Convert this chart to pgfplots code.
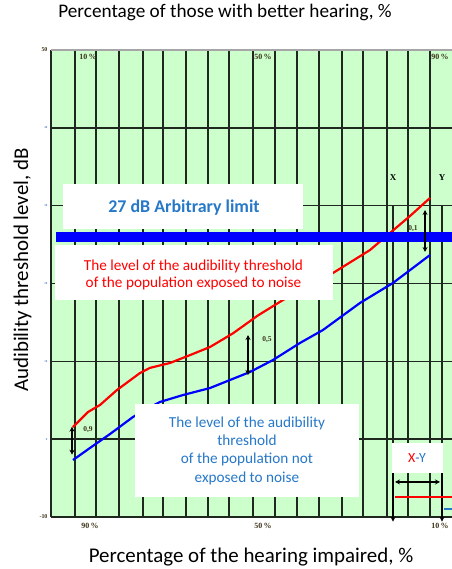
\documentclass[border=0pt]{standalone}
\usepackage{pgfplots}
\pgfplotsset{compat=1.18}
\usepackage{fontspec}
\setmainfont{Carlito}
\newfontfamily\tnr{Liberation Serif}
\usetikzlibrary{arrows.meta}
\definecolor{bggreen}{RGB}{204,255,204}
\definecolor{txtblue}{RGB}{38,120,200}
\definecolor{gridc}{RGB}{30,40,30}
\definecolor{labc}{RGB}{60,50,25}
\definecolor{tickb}{RGB}{90,130,200}
\tikzset{dh/.style={{Stealth[length=5bp,width=5bp]}-{Stealth[length=5bp,width=5bp]}, line width=1.4bp},
         sh/.style={-{Stealth[length=5bp,width=5bp]}, line width=1.5bp}}
\begin{document}
\begin{tikzpicture}[x=1bp,y=1bp]
\useasboundingbox (0,0) rectangle (452,569);
\begin{axis}[
  at={(51bp,52bp)}, anchor=south west,
  width=401bp, height=467bp, scale only axis,
  xmin=0, xmax=401, ymin=-10, ymax=50,
  axis background/.style={fill=bggreen},
  axis line style={draw=none},
  /pgf/number format/assume math mode=true,
  xtick={24,45,68,92,112,135,157,178,202,224,246,268,291,312,336,357,379},
  xticklabels={},
  extra x ticks={39,212,389},
  extra x tick labels={90\,\%,50\,\%,10\,\%},
  extra x tick style={grid=none, major tick length=0pt,
    xticklabel style={font=\tnr\bfseries\fontsize{8}{8}\selectfont, text=labc, yshift=-3bp}},
  ytick={-10,0,10,20,30,40,50},
  yticklabels={{-10},{\fontsize{3}{3}\selectfont\color{tickb}0},{\fontsize{3}{3}\selectfont\color{tickb}10},{\fontsize{3}{3}\selectfont\color{tickb}20},{\fontsize{3}{3}\selectfont\color{tickb}30},{\fontsize{3}{3}\selectfont\color{tickb}40},{50}},
  yticklabel style={font=\tnr\bfseries\fontsize{6}{6}\selectfont, text=labc},
  grid=major, grid style={gridc, line width=1.6bp},
  major tick length=0pt,
  clip=false,
]
% X and Y reference lines
\draw[gridc, line width=1.6bp] (342,30) -- (342,-10);
\draw[gridc, line width=1.6bp] (391,30) -- (391,-10);

% exposed to noise
\addplot[red, line width=2.2bp] coordinates {
(22,1.56) (37,3.49) (49,4.39) (66,6.32) (89,8.5) (99,9.16) (119,9.79) (139,10.8)
(159,11.84) (182,13.6) (207,15.9) (232,17.88) (257,19.55) (282,21.35) (319,24.3)
(339,26.49) (359,28.67) (379,30.99)};
% not exposed
\addplot[blue, line width=2.2bp] coordinates {
(22,-2.68) (39,-1.13) (59,0.66) (82,2.85) (96,3.9) (109,4.78) (132,5.67) (159,6.57)
(179,7.6) (199,8.63) (222,10.17) (249,12.36) (272,14.03) (309,17.5) (342,20.07) (379,23.66)};
% 27 dB limit band
\addplot[blue, line width=9.5bp] coordinates {(5,25.95) (401,25.95)};

% white boxes
\fill[white] (12,27.0) rectangle (252,32.78);
\fill[white] (4,17.88) rectangle (282,24.95);
\fill[white] (84,-7.43) rectangle (308,4.52);
\fill[white] (341,-4.35) rectangle (392,-0.49);

\node[text=txtblue, font=\bfseries\fontsize{18}{18}\selectfont] at (133,29.8) {27 dB Arbitrary limit};
\node[text=red, align=center, font=\fontsize{15.3}{18}\selectfont] at (142.5,21.1)
  {The level of the audibility threshold\\of the population exposed to noise};
\node[text=txtblue, align=center, font=\fontsize{15.3}{18.4}\selectfont] at (196,-1.46)
  {The level of the audibility\\threshold\\of the population not\\exposed to noise};
\node[font=\fontsize{14}{14}\selectfont] at (366,-2.4) {\textcolor{red}{X}\textcolor{txtblue}{-Y}};

% frame
\draw[gridc, line width=1.6bp] (0,-10) -- (0,50);
\draw[gridc, line width=1.6bp] (0,-10) -- (401,-10);
\draw[black!35, line width=2.5bp] (0,50) -- (401,50);

% difference arrows
\draw[dh] (21,1.6) -- (21,-2.0);
\draw[dh] (197,13.38) -- (197,8.24);
\draw[dh] (374,29.44) -- (374,24.05);
\node[text=labc, font=\tnr\bfseries\fontsize{7.5}{7.5}\selectfont] at (37,1.18) {0,9};
\node[text=labc, font=\tnr\bfseries\fontsize{7.5}{7.5}\selectfont] at (216,12.74) {0,5};
\node[text=labc, font=\tnr\bfseries\fontsize{7.5}{7.5}\selectfont] at (362,27.1) {0,1};

% X-Y annotation
\draw[dh] (344,-5.5) -- (389,-5.5);
\draw[sh] (342,-4.4) -- (342,-10.6);
\draw[sh] (391,-4.4) -- (391,-10.6);
\draw[red, line width=2bp] (344,-7.43) -- (401,-7.43);
\draw[txtblue, line width=2bp] (393,-8.97) -- (401,-8.97);
\node[font=\tnr\bfseries\fontsize{9}{9}\selectfont] at (342,33.56) {X};
\node[font=\tnr\bfseries\fontsize{9}{9}\selectfont] at (391,33.56) {Y};

% top percentages
\node[text=labc, font=\tnr\bfseries\fontsize{8}{8}\selectfont] at (37,49.1) {10\,\%};
\node[text=labc, font=\tnr\bfseries\fontsize{8}{8}\selectfont] at (212,49.1) {50\,\%};
\node[text=labc, font=\tnr\bfseries\fontsize{8}{8}\selectfont] at (389,49.1) {90\,\%};
\end{axis}
\node[anchor=base, font=\fontsize{19.3}{20}\selectfont] at (225,551) {Percentage of those with better hearing, \%};
\node[rotate=90, anchor=base, font=\fontsize{21}{22}\selectfont] at (28,299) {Audibility threshold level, dB};
\node[anchor=base, font=\fontsize{21}{22}\selectfont] at (251,6) {Percentage of the hearing impaired, \%};
\end{tikzpicture}
\end{document}
